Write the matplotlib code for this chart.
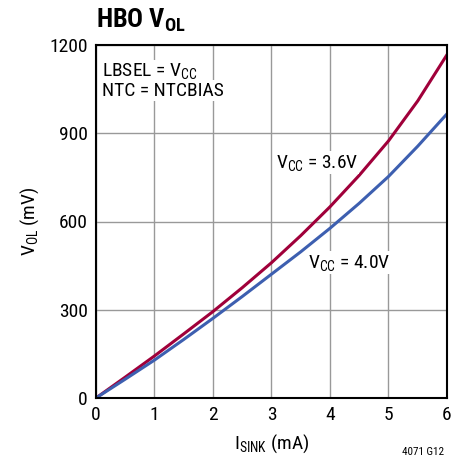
import matplotlib
matplotlib.use("Agg")
import matplotlib.pyplot as plt
from matplotlib import rc

fam = 'Roboto Condensed'
rc('font', **{'family': [fam, 'DejaVu Sans'], 'size': 14})
rc('mathtext', fontset='custom', rm=fam, it=fam + ':italic', bf=fam + ':bold')

i_sink = [0, 0.5, 1, 1.5, 2, 2.5, 3, 3.5, 4, 4.5, 5, 5.5, 6]
vol_36 = [0, 71, 143, 218, 294, 375, 460, 552, 650, 757, 874, 1010, 1167]
vol_40 = [0, 64, 129, 199, 271, 345, 421, 497, 577, 662, 753, 856, 966]

red = '#a0003a'
blue = '#3d5fb0'

fig = plt.figure(figsize=(4.64, 4.72), dpi=100)
ax = fig.add_axes([96/464, (472-398)/472, (447-96)/464, (398-45)/472])

ax.plot(i_sink, vol_36, color=red, lw=2.2)
ax.plot(i_sink, vol_40, color=blue, lw=2.2)

ax.set_xlim(0, 6)
ax.set_ylim(0, 1200)
ax.set_xticks(range(0, 7))
ax.set_yticks([0, 300, 600, 900, 1200])
ax.grid(color='#999999', lw=1)
ax.tick_params(length=0, pad=6, labelsize=14)
for s in ax.spines.values():
    s.set_linewidth(1.5)

ax.set_xlabel(r'I$_{\mathrm{SINK}}$ (mA)', fontsize=14, labelpad=6)
ax.set_ylabel(r'V$_{\mathrm{OL}}$ (mV)', fontsize=14, labelpad=6)

box = dict(fc='white', ec='none', pad=1)
ax.text(0.1, 1145, r'LBSEL = V$_{\mathrm{CC}}$', fontsize=14, va='top', bbox=box)
ax.text(0.1, 1075, 'NTC = NTCBIAS', fontsize=14, va='top', bbox=box)
ax.text(3.07, 800, r'V$_{\mathrm{CC}}$ = 3.6V', fontsize=14, va='center', bbox=box)
ax.text(3.62, 460, r'V$_{\mathrm{CC}}$ = 4.0V', fontsize=14, va='center', bbox=box)

fig.text(96/464, 1 - 20/472, r'HBO V$_{\mathbf{OL}}$', fontsize=19, fontweight='bold', va='center')
fig.text(444/464, 1 - 452/472, '4071 G12', fontsize=8, ha='right', va='center')

fig.savefig('out.png', dpi=100)
